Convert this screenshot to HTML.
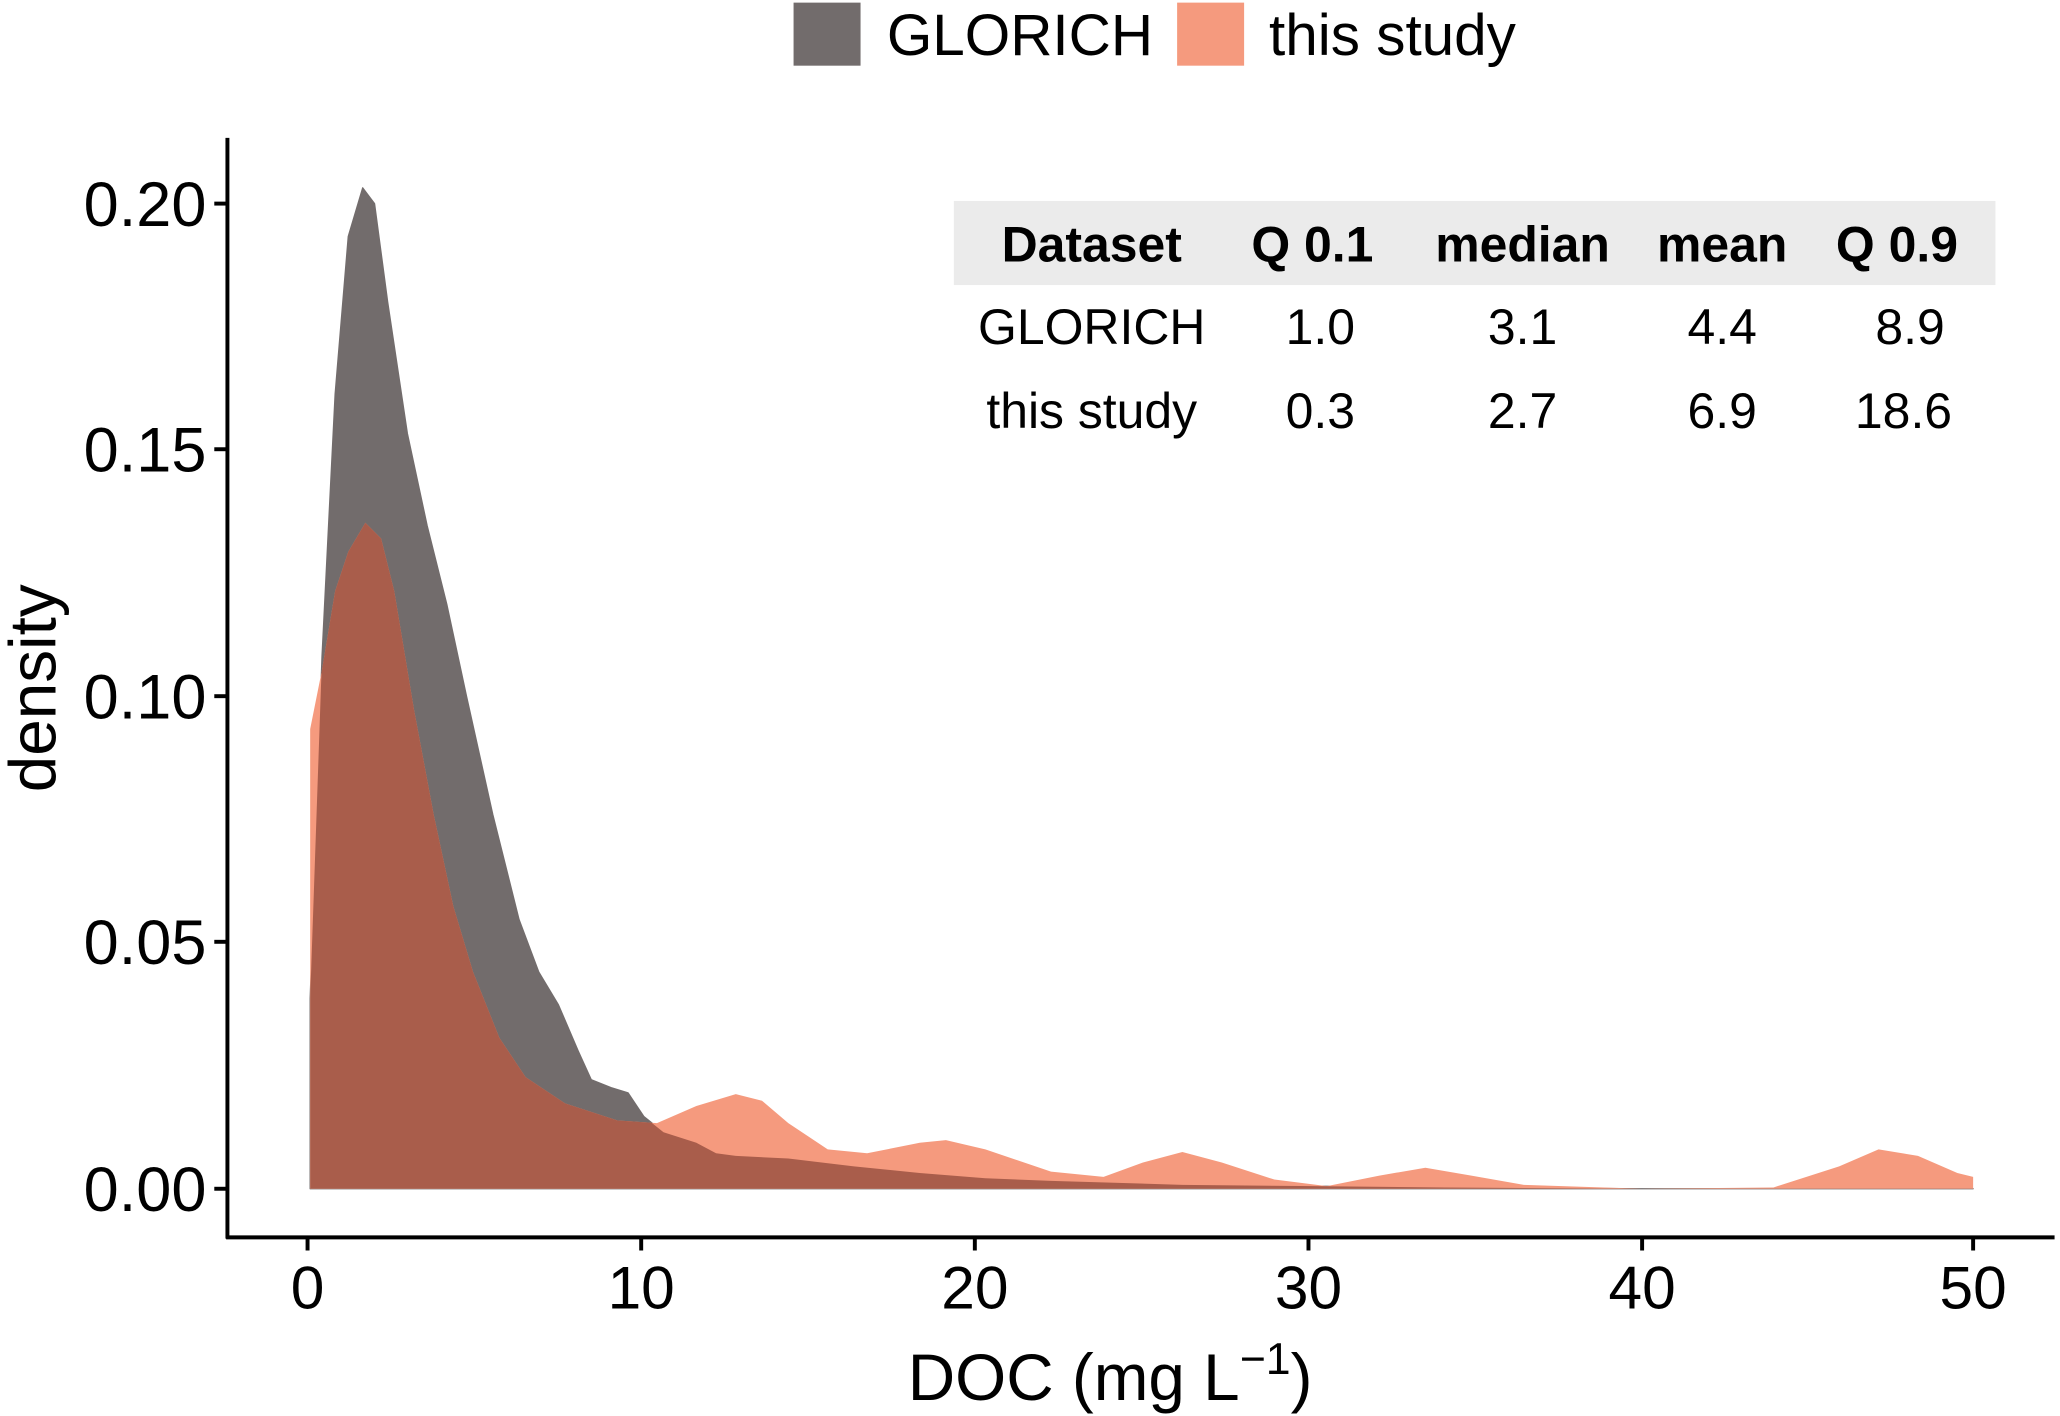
<!DOCTYPE html>
<html><head><meta charset="utf-8"><style>
html,body{margin:0;padding:0;background:#fff}
svg{display:block}
text{font-family:"Liberation Sans",Arial,sans-serif;fill:#000}
</style></head><body>
<svg width="2060" height="1416" viewBox="0 0 1568 1078" xmlns="http://www.w3.org/2000/svg">
<defs>
<path id="g" d="M236,905 L236,760 L245,500 L255,300 L265,180 L276,143 L285,155 L295,230 L310,330 L325,400 L340,460 L355,530 L375,620 L395,700 L410,740 L425,765 L440,800 L450,822 L465,828 L478,832 L490,850 L505,862 L530,870 L545,878 L560,880 L600,882 L650,888 L700,893 L750,897 L800,899 L900,902 L1000,903 L1100,904 L1250,905 L1502,905 Z"/>
<path id="s" d="M236,905 L236,555 L245,510 L255,450 L265,420 L278,398 L290,410 L300,450 L315,540 L330,620 L345,690 L360,740 L380,790 L400,820 L430,840 L470,853 L500,855 L530,842 L560,833 L580,838 L600,855 L630,875 L660,878 L700,870 L720,868 L750,875 L800,892 L840,896 L870,885 L900,877 L930,885 L970,898 L1010,903 L1050,895 L1085,889 L1120,895 L1160,902 L1250,905 L1350,904 L1400,888 L1430,875 L1460,880 L1490,893 L1502,896 L1502,905 Z"/>
<clipPath id="gc"><use href="#g"/></clipPath>
</defs>
<use href="#g" fill="#726c6c" stroke="#726c6c" stroke-width="1" stroke-linejoin="round"/>
<use href="#s" fill="#f59a7e"/>
<use href="#s" fill="#a95d4b" clip-path="url(#gc)"/>
<line x1="173" y1="105" x2="173" y2="943" stroke="#000" stroke-width="3"/>
<line x1="172" y1="942" x2="1564" y2="942" stroke="#000" stroke-width="3"/>
<g stroke="#000" stroke-width="3">
<line x1="163" y1="905" x2="173" y2="905"/><line x1="163" y1="717" x2="173" y2="717"/>
<line x1="163" y1="530" x2="173" y2="530"/><line x1="163" y1="342" x2="173" y2="342"/>
<line x1="163" y1="155" x2="173" y2="155"/>
<line x1="234" y1="942" x2="234" y2="952"/><line x1="488" y1="942" x2="488" y2="952"/>
<line x1="742" y1="942" x2="742" y2="952"/><line x1="996" y1="942" x2="996" y2="952"/>
<line x1="1250" y1="942" x2="1250" y2="952"/><line x1="1502" y1="942" x2="1502" y2="952"/>
</g>
<g font-size="48" text-anchor="end">
<text x="157" y="922">0.00</text><text x="157" y="734">0.05</text>
<text x="157" y="547">0.10</text><text x="157" y="359">0.15</text>
<text x="157" y="172">0.20</text>
</g>
<g font-size="46" text-anchor="middle">
<text x="234" y="996">0</text><text x="488" y="996">10</text><text x="742" y="996">20</text>
<text x="996" y="996">30</text><text x="1250" y="996">40</text><text x="1502" y="996">50</text>
</g>
<text x="845" y="1066" font-size="50" text-anchor="middle">DOC (mg L<tspan font-size="34" dy="-20">−1</tspan><tspan dy="20">)</tspan></text>
<text transform="translate(42,524) rotate(-90)" font-size="50" text-anchor="middle">density</text>
<rect x="604" y="2" width="51" height="48" fill="#726c6c"/>
<text x="675" y="42" font-size="44.5">GLORICH</text>
<rect x="896" y="2" width="51" height="48" fill="#f59a7e"/>
<text x="966" y="42" font-size="44.5">this study</text>
<rect x="726" y="153" width="793" height="64" fill="#ebebeb"/>
<g font-size="38" text-anchor="middle" font-weight="bold">
<text x="831" y="199">Dataset</text><text x="999" y="199">Q 0.1</text>
<text x="1159" y="199">median</text><text x="1311" y="199">mean</text><text x="1444" y="199">Q 0.9</text>
</g>
<g font-size="38" text-anchor="middle">
<text x="831" y="262">GLORICH</text><text x="1005" y="262">1.0</text>
<text x="1159" y="262">3.1</text><text x="1311" y="262">4.4</text><text x="1454" y="262">8.9</text>
<text x="831" y="326">this study</text><text x="1005" y="326">0.3</text>
<text x="1159" y="326">2.7</text><text x="1311" y="326">6.9</text><text x="1449" y="326">18.6</text>
</g>
</svg>
</body></html>
